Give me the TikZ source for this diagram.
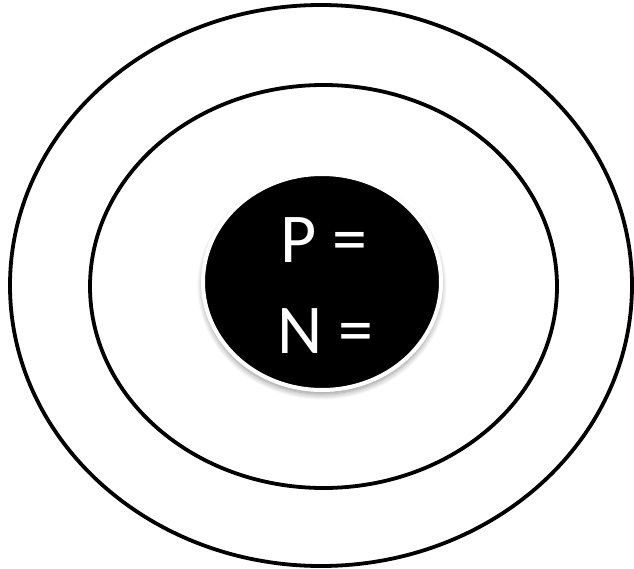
\documentclass[tikz,border=0pt]{standalone}
\usepackage{fontspec}
\setmainfont{Carlito}
\usetikzlibrary{shadows.blur}
\begin{document}
\begin{tikzpicture}[x=1pt,y=-1pt,
  ring/.style={draw=black,line width=3.8pt},
  nucleus/.style={fill=black,draw=white,line width=4pt,blur shadow={shadow xshift=0pt,shadow yshift=-4pt,shadow blur radius=6pt,shadow blur steps=10,shadow opacity=45}},
  label/.style={text=white,font=\fontsize{70}{74}\selectfont,inner sep=0pt}]
\useasboundingbox (0,0) rectangle (634,569);
\draw[ring] (321,285.5) ellipse [x radius=311,y radius=280.5];
\draw[ring] (323.5,286.5) ellipse [x radius=233.5,y radius=201.5];
\path[nucleus] (322,282) ellipse [x radius=119,y radius=108];
\node[label,anchor=base] (p) at (324,262) {P =};
\node[label,anchor=base] (n) at (325,353) {N =};
\end{tikzpicture}
\end{document}
